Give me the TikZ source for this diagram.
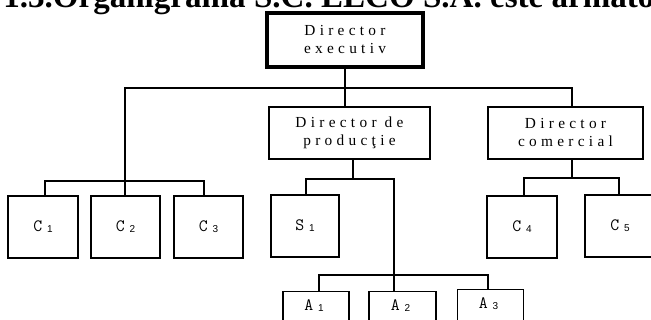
\documentclass[tikz,border=0pt]{standalone}
\usepackage{fontspec}
\setmainfont{Liberation Serif}
\newfontfamily\spacedserif[LetterSpace=28]{Liberation Serif}
\newfontfamily\csans{Liberation Sans}
\usetikzlibrary{calc}
\newcommand\boxlab[2]{{\ttfamily\fontsize{13}{14}\selectfont #1\hspace{3.5pt}\raisebox{-0.75pt}{\csans\fontsize{7.5}{8}\selectfont #2}}}
\begin{document}
\begin{tikzpicture}[x=0.75pt,y=-0.75pt,
  dbox/.style={draw, line width=1.1pt, inner sep=0pt, align=center,
    font=\spacedserif\fontsize{11.5}{13.5}\selectfont},
  topbox/.style={dbox, line width=2.4pt},
  cbox/.style={draw, line width=1.1pt, inner sep=0pt,
    minimum width=52.5pt, minimum height=46.5pt},
  lbl/.style={inner sep=0pt},
  conn/.style={line width=0.8pt}]
\useasboundingbox (0,0) rectangle (651,320);
\clip (0,0) rectangle (651,320);
% title
\node[anchor=base west, inner sep=0pt, font=\bfseries\fontsize{24.8}{28}\selectfont] (title) at (3,7.5) {1.3.Organigrama S.C. ELCO S.A. este armato};
% directors
\node[topbox, minimum width=117pt, minimum height=40.5pt] (E) at (345,40) {Director\\executiv};
\node[dbox, minimum width=120.75pt, minimum height=39pt] (P) at (349.5,133) {Director de\\producţie};
\node[dbox, minimum width=116.25pt, minimum height=39pt] (M) at (565.5,133) {Director\\comercial};
% compartments
\node[cbox] (C1) at (43,227) {\boxlab{C}{1}};
\node[cbox, minimum width=51.75pt] (C2) at (125.5,227) {\boxlab{C}{2}};
\node[cbox, minimum width=51.75pt] (C3) at (208.5,227) {\boxlab{C}{3}};
\node[cbox, minimum width=51pt] (S1) at (305,226) {\boxlab{S}{1}};
\node[cbox] (C4) at (522,227) {\boxlab{C}{4}};
\node[cbox] (C5) at (620,226) {\boxlab{C}{5}};
\node[cbox, minimum width=49.5pt, anchor=north] (A1) at (316,291) {};
\node[cbox, minimum width=50.25pt, anchor=north] (A2) at (402.5,291) {};
\node[cbox, minimum width=49.5pt, anchor=north] (A3) at (490.5,289) {};
\node[lbl] (A1t) at ($(A1.north)+(-2,15)$) {\boxlab{A}{1}};
\node[lbl] (A2t) at ($(A2.north)+(-2,15)$) {\boxlab{A}{2}};
\node[lbl] (A3t) at ($(A3.north)+(-2,15)$) {\boxlab{A}{3}};
% junction points
\coordinate (hL) at (125,88);
\coordinate (hR) at (572,88);
\coordinate (lb1) at (45,181);
\coordinate (lb2) at (204,181);
\coordinate (pb) at (353,179);
\coordinate (s1) at (306,179);
\coordinate (a0) at (394,179);
\coordinate (a1) at (319,275);
\coordinate (a2) at (394,275);
\coordinate (a3) at (488,275);
\coordinate (mb) at (572,178);
\coordinate (c4) at (524,178);
\coordinate (c5) at (619,178);
% connectors
\draw[conn] (E.south) -- (P.north -| E.south);
\draw[conn] (C2.north -| hL) -- (hL) -- (hR) -- (M.north -| hR);
\draw[conn] (C1.north -| lb1) -- (lb1) -- (lb2) -- (C3.north -| lb2);
\draw[conn] (P.south -| pb) -- (pb);
\draw[conn] (S1.north -| s1) -- (s1) -- (a0) -- (a2) -- (A2.north -| a2);
\draw[conn] (A1.north -| a1) -- (a1) -- (a3) -- (A3.north -| a3);
\draw[conn] (M.south -| mb) -- (mb);
\draw[conn] (C4.north -| c4) -- (c4) -- (c5) -- (C5.north -| c5);
\end{tikzpicture}
\end{document}
